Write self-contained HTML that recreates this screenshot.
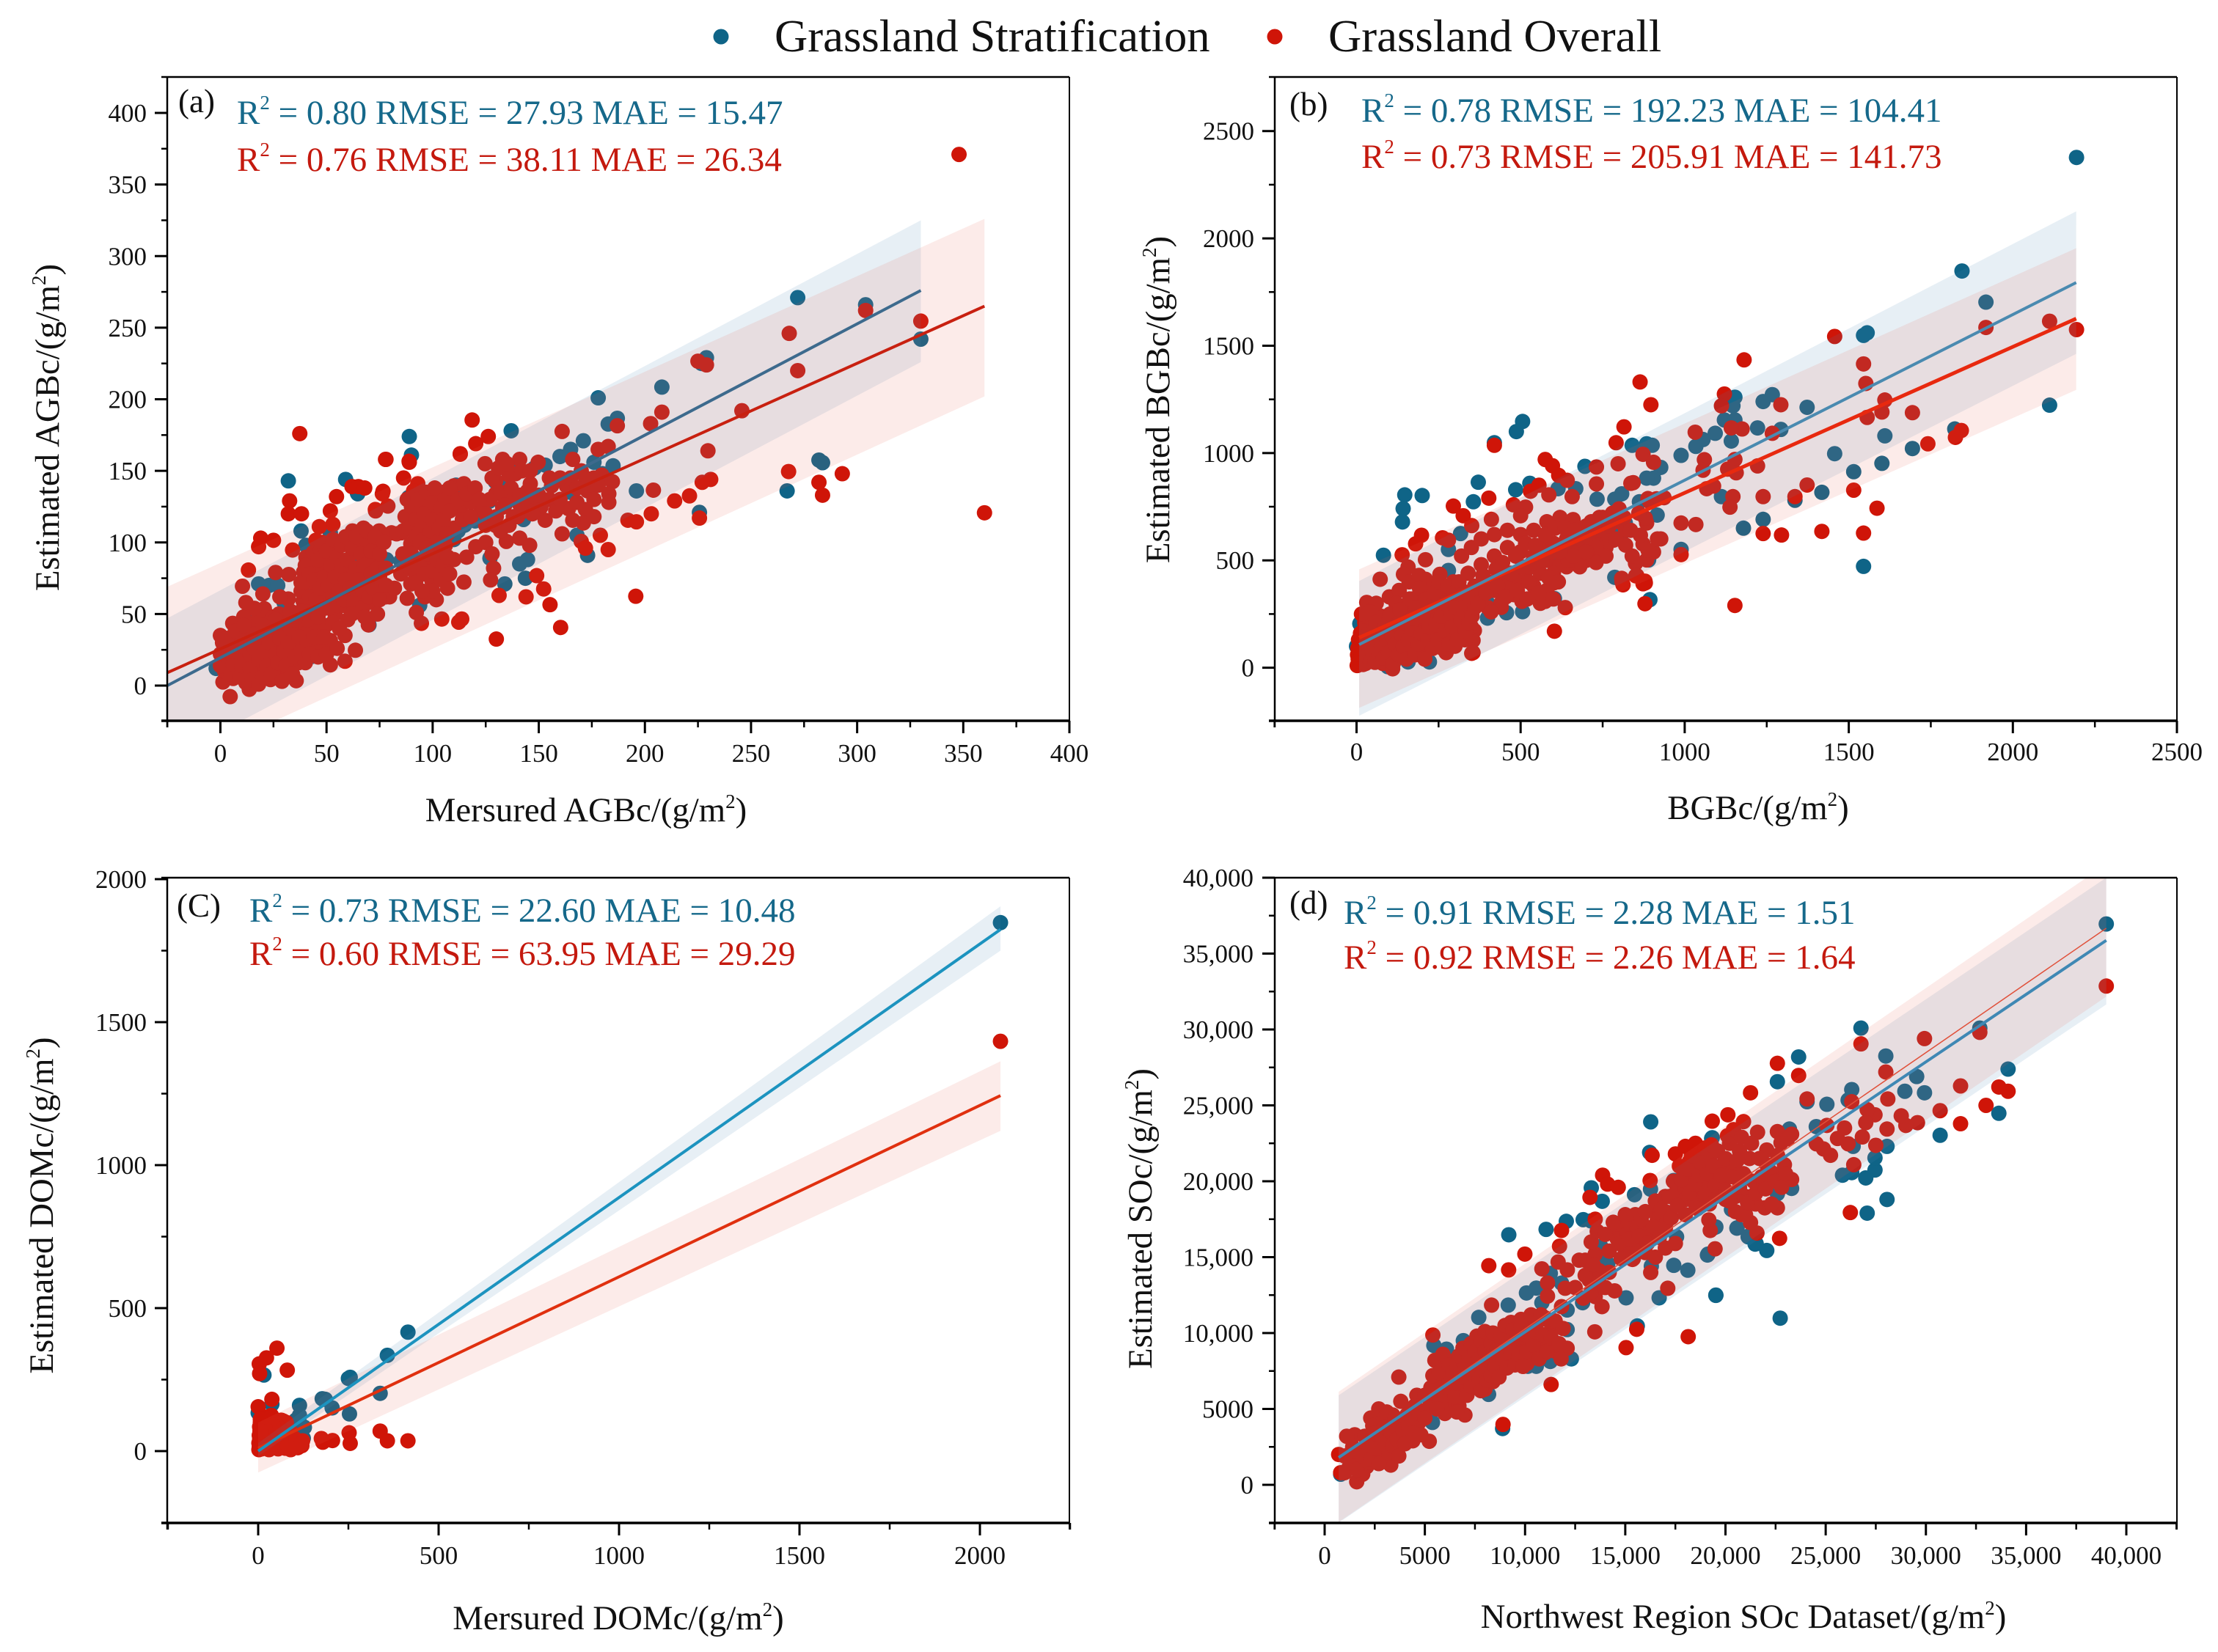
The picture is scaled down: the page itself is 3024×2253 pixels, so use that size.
<!DOCTYPE html>
<html lang="en">
<head>
<meta charset="utf-8">
<title>Estimated vs measured carbon density scatter plots</title>
<style>
html,body{margin:0;padding:0;background:#fff;}
svg{display:block;font-family:"Liberation Serif",serif;}
text{fill:#111;}
.tick{font-size:35px;}
.axl{font-size:46.8px;}
.stat{font-size:47px;}
.tag{font-size:45px;}
.leg{font-size:62.7px;}
.b{fill:#15688a;}
.r{fill:#c4190e;}
</style>
</head>
<body>
<svg id="chart" xmlns="http://www.w3.org/2000/svg" width="3024" height="2253" viewBox="0 0 3024 2253">
<rect x="0" y="0" width="3024" height="2253" fill="#fff"/>
<g>
<circle cx="983" cy="50" r="10.5" fill="#0f6487"/>
<text class="leg" x="1056" y="70">Grassland Stratification</text>
<circle cx="1738" cy="50" r="10.5" fill="#cf1508"/>
<text class="leg" x="1811" y="70">Grassland Overall</text>
</g>
<g id="plots"></g>

<text class="tag" x="243" y="153">(a)</text>
<text class="stat b" x="323" y="169">R<tspan dy="-20" font-size="27">2</tspan><tspan dy="20"> = 0.80 RMSE = 27.93 MAE = 15.47</tspan></text>
<text class="stat r" x="323" y="233">R<tspan dy="-20" font-size="27">2</tspan><tspan dy="20"> = 0.76 RMSE = 38.11 MAE = 26.34</tspan></text>
<text class="axl" text-anchor="middle" x="799" y="1120">Mersured AGBc/(g/m<tspan dy="-18" font-size="27">2</tspan><tspan dy="18">)</tspan></text>
<text class="axl" text-anchor="middle" transform="translate(80 583) rotate(-90)">Estimated AGBc/(g/m<tspan dy="-18" font-size="27">2</tspan><tspan dy="18">)</tspan></text>

<text class="tag" x="1758" y="157">(b)</text>
<text class="stat b" x="1856" y="166">R<tspan dy="-20" font-size="27">2</tspan><tspan dy="20"> = 0.78 RMSE = 192.23 MAE = 104.41</tspan></text>
<text class="stat r" x="1856" y="229">R<tspan dy="-20" font-size="27">2</tspan><tspan dy="20"> = 0.73 RMSE = 205.91 MAE = 141.73</tspan></text>
<text class="axl" text-anchor="middle" x="2397" y="1117">BGBc/(g/m<tspan dy="-18" font-size="27">2</tspan><tspan dy="18">)</tspan></text>
<text class="axl" text-anchor="middle" transform="translate(1594 545) rotate(-90)">Estimated BGBc/(g/m<tspan dy="-18" font-size="27">2</tspan><tspan dy="18">)</tspan></text>

<text class="tag" x="241" y="1250">(C)</text>
<text class="stat b" x="340" y="1257">R<tspan dy="-20" font-size="27">2</tspan><tspan dy="20"> = 0.73 RMSE = 22.60 MAE = 10.48</tspan></text>
<text class="stat r" x="340" y="1316">R<tspan dy="-20" font-size="27">2</tspan><tspan dy="20"> = 0.60 RMSE = 63.95 MAE = 29.29</tspan></text>
<text class="axl" text-anchor="middle" x="843" y="2222">Mersured DOMc/(g/m<tspan dy="-18" font-size="27">2</tspan><tspan dy="18">)</tspan></text>
<text class="axl" text-anchor="middle" transform="translate(72 1644) rotate(-90)">Estimated DOMc/(g/m<tspan dy="-18" font-size="27">2</tspan><tspan dy="18">)</tspan></text>

<text class="tag" x="1758" y="1246">(d)</text>
<text class="stat b" x="1832" y="1260">R<tspan dy="-20" font-size="27">2</tspan><tspan dy="20"> = 0.91 RMSE = 2.28 MAE = 1.51</tspan></text>
<text class="stat r" x="1832" y="1321">R<tspan dy="-20" font-size="27">2</tspan><tspan dy="20"> = 0.92 RMSE = 2.26 MAE = 1.64</tspan></text>
<text class="axl" text-anchor="middle" x="2377" y="2220">Northwest Region SOc Dataset/(g/m<tspan dy="-18" font-size="27">2</tspan><tspan dy="18">)</tspan></text>
<text class="axl" text-anchor="middle" transform="translate(1570 1662) rotate(-90)">Estimated SOc/(g/m<tspan dy="-18" font-size="27">2</tspan><tspan dy="18">)</tspan></text>
</svg>
<script>
/* ---------- panel (a) values ---------- */
const aXTicks=[0,50,100,150,200,250,300,350,400];
const aYTicks=[0,50,100,150,200,250,300,350,400];
const aXMinor=[-25,25,75,125,175,225,275,325,375];
const aYMinor=[25,75,125,175,225,275,325,375];
const aYLabels=['0','50','100','150','200','250','300','350','400'];
const aBlueLine=[[-25,0],[330,276]];
const aRedLine=[[-25,9],[360,265]];
const aBlueUpper=[[-25,47],[330,325]];
const aBlueLower=[[-25,-52],[330,226]];
const aRedUpper=[[-25,69],[360,326]];
const aRedLower=[[-25,-59],[360,202]];
const aBlue=[[272,271],[304,266],[330,242],[229,229],[226.7,225],[208,208.5],[178,201],[187,186.7],[182.7,182.7],[137,178],[89,174],[90,161],[32,143],[59,144],[64.7,134],[38,108],[267,136],[282,157.5],[283.7,155.7],[196,136],[225.7,121],[153,154],[160,160],[165,165],[171,171],[176,156],[185,153.5],[173,91],[143.7,75],[141,85],[144.7,88],[127,89],[134,71],[70,42.4],[18,71],[23,70],[27,70],[143,117],[110,102],[115,112],[120,115],[104,108],[108,106],[112,108],[135,142],[140,154],[148,152],[111,140],[118.6,136.5],[129.5,142.5],[126.7,128.8],[142.8,116],[88.7,131.4],[85,87],[78.3,87.9],[62.2,89.6],[51.8,106.7],[40.3,98],[43.8,65.7],[30,58],[13.8,46],[93.9,56],[48.4,31.5],[43.2,20.4],[-2,12],[165,135],[168,105],[180,148],[64.5,134.8]];
const aRed=[[348,371],[360,120.7],[330,254.6],[304,262],[268,246],[272,220],[225,226.6],[229,224],[245.7,192],[208,191],[202.7,183],[187,181.5],[229.7,164],[231,144],[227,142],[267.7,149.5],[282,142],[283.7,133],[293,148],[225.7,117],[204,136.5],[203,120],[214,129],[221,132.5],[192,115.5],[196,114.4],[195.7,62.4],[182.7,95],[179,105],[161,177.5],
[37.4,176],[118.6,185.5],[126.2,174],[120.3,169],[113,162],[77.8,158],[88.9,156.7],
[32.6,129],[32,120],[38.2,120],[19,103],[18,97],[25,101.5],[34,94.7],[13.2,80.7],[10.4,69.4],[26,79],[32.2,77.6],[51.8,122],[54.7,132],[62,139],[65,139],[68,138],[76.6,135.7],[78.9,125.4],[73.1,122],[53,112.6],[46.6,111],[45,101.5],[40.3,89.6],[43.8,93],[47.2,94.7],[39.2,79.3],[47.2,81],[51.8,79.3],[61,82.8],[62.2,108],[67.4,110],[74.8,108],[80.6,106.7],[85.2,106.7],[54.7,96.4],[61,98],[68,99.8],[73.7,96.4],[69,89.6],[73.7,86.2],[66.8,79.3],[62.2,76],[57,70],[44,84],[50,88],[56,78],[70,72],[75,76],[65,62],[72,58],[78,62],[58,56],[63,66],[50,65],[45,70],[40,72],
[113,161.6],[124.7,155],[133,158],[141,158],[149.7,156],[110,139.5],[114.7,141],[129.7,143],[136,147],[146,141],[156,139.5],[166,158],[163,139.5],[173,136],[179.7,147],[184.7,142.4],[183,134],[183,128],[178,165],[182.7,167],[176,145],[161,106],[164,123.6],[172,123],[171,113.6],[166,115.5],[170,100.7],[172,96],[153,115.5],[151,124.7],[141,126.6],[144.7,135.8],[129.7,134],[133,124.7],[123,122.9],[113,122.9],[103,119],[110,110],[129.7,111.8],[134.7,100.7],[141,103],[145.7,98],[120.3,97],[116,89.7],[128.7,82],[127.3,73.8],[131.3,63],[149,76.8],[152.3,67.5],[155.3,56.5],[160.3,40.6],[144,62],[130,32.5],[112.3,44.3],[113.7,46.5],[104.3,46.5],[114.7,72.3],[101.7,60],[106.3,76.8],[94.7,43.5],[92.3,51],[96.3,62],[88,61],[89.7,71],[99.7,73],[110,88],[93,88],[103,91.5],[98,102.6],[89.7,99],[96.3,110],[89.7,119],[94.7,124.7],[99.7,132],[93,141],[86.3,145],[89,156],[78,158],[76.3,134],[73,123],[83,106],[79.7,62],[71.3,62],[63,54.6],[69.7,42.4],[100,125],[105,135],[118,128],[137,130],[140,118],[125,112],[106,98],[100,85],[107,68],[92,78],[85,78],[82,68],[155,130],[160,145],[170,150],
[4.6,-7.7],[13.6,-2.6],[23.6,4.2],[35.7,3.4],[27.6,11],[1.2,2.5],[0,35],[5.8,43.5],[16,41.8],[20.7,53.7],[27.6,50],[32,60.5],[39,59],[42.6,55.4],[43.8,40],[49.5,41.8],[51.8,31.5],[51.8,14.5],[58.7,35],[63.6,24.7],[58.7,17],[36.9,16],[43.8,26.4],[48.4,24.7],[2,10],[3,18],[4,26],[1,30],[6,5],[8,12],[9,20],[7,32],[10,38],[12,2],[13,9],[14,16],[12,25],[15,30],[13,36],[17,6],[18,13],[19,21],[17,28],[20,35],[22,42],[21,10],[23,17],[24,26],[25,33],[26,40],[28,20],[29,28],[30,36],[31,44],[33,16],[34,24],[35,32],[36,40],[37,48],[39,28],[40,36],[41,46],[45,50],[47,34],[33,52],[25,48],[18,47],[11,48],[16,54],[29,8],[32,10],[54,50],[60,46],[52,58],[48,62],[38,66],[28,62],[12,58],[20,64]];
const aRedDense=[[0,14],[0,22],[3,33],[5,8],[6,15],[6,24],[7,38],[9,6],[10,14],[10,28],[11,33],[11,42],[14,12],[14,22],[15,4],[16,26],[16,36],[18,1],[18,18],[19,30],[20,6],[20,42],[21,24],[22,14],[23,30],[24,8],[24,38],[26,22],[26,46],[27,16],[28,33],[29,3],[30,24],[31,14],[32,30],[33,40],[34,8],[35,20],[35,46],[37,34],[38,24],[38,52],[40,16],[41,30],[42,22],[44,34],[46,20],[46,48],[49,34],[50,22],[53,44],[55,26],[56,40],
[38,72],[40,84],[42,62],[42,78],[44,74],[45,60],[46,88],[47,68],[48,100],[49,76],[49,54],[50,94],[51,70],[52,84],[53,62],[53,102],[54,76],[55,90],[55,56],[56,66],[57,84],[57,98],[58,60],[59,74],[59,104],[60,88],[61,68],[62,96],[63,58],[64,82],[64,104],[65,74],[66,92],[67,54],[67,66],[68,84],[69,108],[70,62],[71,78],[71,94],[72,68],[73,104],[74,82],[75,60],[75,92],[76,70],[77,100],[78,82],[62,50],[68,48],[74,50],[78,70],
[86,108],[87,118],[88,130],[89,110],[90,125],[91,136],[92,104],[92,116],[93,130],[94,100],[95,112],[96,120],[97,135],[97,96],[99,108],[100,116],[100,128],[101,138],[102,100],[103,110],[104,124],[105,116],[106,130],[107,106],[108,122],[108,138],
[88,84],[90,92],[92,72],[94,86],[96,78],[98,92],[100,66],[100,80],[102,88],[104,74],[105,84],[107,90],[108,78],[86,92],[95,66],
[125,120],[127,130],[128,145],[130,118],[131,152],[132,135],[134,126],[135,155],[137,138],[138,118],[139,148],[141,133],[142,150],[143,122],[145,128],[146,150],[147,120],[148,132],[125,100],[128,92],[132,108],[136,112],[112,130],[116,134],[120,138],[114,116],[118,118],[122,130],[165,145],[168,128],[172,145],[176,130],[178,140],[176,118],[168,138],[158,122],[160,130],[155,145],[150,133]];

/* ---------- panel (b) values ---------- */
const bXTicks=[0,500,1000,1500,2000,2500];
const bYTicks=[0,500,1000,1500,2000,2500];
const bXMinor=[-250,250,750,1250,1750,2250];
const bYMinor=[250,750,1250,1750,2250];
const bYLabels=['0','500','1000','1500','2000','2500'];
const bBlueLine=[[8,108],[2193,1794]];
const bRedLine=[[8,140],[2193,1626]];
const bBlueUpper=[[8,404],[2193,2126]];
const bBlueLower=[[8,-224],[2193,1462]];
const bRedUpper=[[8,458],[2193,1954]];
const bRedLower=[[8,-187],[2193,1294]];
const bBlue=[[2194,2377],[1845,1848],[1918,1703],[2112,1223],[1556,1560],[1545,1548],[1545,472],[1610,1080],[1601,952],[1694,1021],[1457,997],[1515,913],[1418,817],[1373,1213],[1267,1272],[1239,1240],[1222,1117],[1293,1110],[1823,1112],[1153,1260],[1147,1220],[1121,1154],[1153,1154],[1142,1056],[1093,1092],[1034,1031],[1056,1063],[989,989],[1112,797],[1179,650],[1239,691],[1336,780],[989,551],[894,317],[787,421],[603,322],[506,1147],[487,1100],[420,1048],[371,864],[356,773],[485,829],[528,859],[147,805],[200,802],[142,741],[140,679],[82,524],[222,27],[157,27],[696,938],[840,1036],[884,1043],[901,1036],[927,933],[916,711],[890,502],[819,674],[808,625],[668,834],[614,834],[733,785],[787,785],[808,810],[862,773],[905,883],[884,883],[280,551],[317,625],[280,453],[399,231],[457,256],[506,261],[614,490],[0,100],[10,205],[20,30],[95,5],[60,80],[120,140],[300,120],[340,200],[400,300]];
const bRed=[[2194,1575],[2112,1614],[1843,1105],[1825,1073],[1741,1043],[1694,1188],[1601,1191],[1610,1247],[1556,1166],[1552,1324],[1545,1415],[1457,1543],[1181,1434],[1121,1275],[1112,1220],[1293,1225],[1267,1092],[1918,1585],[864,1331],[897,1225],[815,1122],[791,1048],[420,1036],[1032,1097],[1060,969],[1056,920],[1088,846],[1067,834],[1131,925],[1153,970],[1157,908],[1175,1112],[1142,1117],[1222,940],[1239,797],[1147,797],[1138,748],[1336,797],[1373,851],[1239,625],[1295,618],[1418,635],[1515,827],[1545,627],[1586,743],[1153,290],[989,527],[989,674],[1034,667],[894,772],[937,792],[836,859],[797,950],[731,935],[731,856],[873,994],[905,957],[657,797],[603,170],[636,280],[601,404],[927,600],[884,502],[905,539],[873,391],[851,428],[808,416],[812,386],[879,298],[879,403],[873,576],[884,674],[754,600],
[575,970],[597,941],[616,896],[642,873],[530,822],[556,850],[586,805],[843,862],[403,790],[295,753],[325,708],[351,662],[411,691],[198,617],[180,577],[139,526],[210,503],[262,605],[280,594],[72,412],[157,469],[143,435],[210,412],[254,435],[478,759],[515,748],[500,708],[914,787],[888,788],[880,697],[865,617],[917,600],[888,548],[850,486],[854,429],[880,395],[809,400],[820,571],[783,594],[441,281],[359,173],[355,127],[351,67],[273,70],[601,395],[575,309],[504,309],[31,304],
[320,520],[350,560],[380,600],[420,620],[460,640],[500,620],[540,640],[580,680],[620,700],[660,690],[700,660],[740,700],[780,720],[560,560],[600,580],[640,600],[680,560],[720,600],[760,630],[800,680],[820,640],[640,530],[680,520],[720,540],[760,560],[700,500],[340,440],[380,480],[420,520],[460,560],[500,540],[540,520],[580,500],[620,480],[560,440],[600,440],[520,460],[480,420],[440,440],[400,400],[360,380],[320,360],[300,300],[340,310],[380,340],[420,360],[460,380],[500,400],[540,380],[580,360],[480,340],[520,320],[560,300],[600,320],[440,300],[400,280],[680,470],[640,470],
[2,10],[5,40],[8,70],[10,100],[6,130],[12,160],[20,15],[25,45],[30,80],[35,120],[40,170],[45,210],[50,30],[55,65],[60,105],[65,145],[70,190],[75,240],[80,20],[85,55],[90,95],[95,135],[100,180],[105,230],[110,-5],[115,40],[120,85],[125,125],[130,175],[135,225],[140,275],[145,60],[150,110],[155,160],[160,210],[165,260],[170,320],[175,90],[180,140],[185,190],[190,240],[195,290],[200,350],[205,70],[210,120],[215,170],[220,220],[225,270],[230,320],[235,390],[240,110],[245,160],[250,210],[255,260],[260,310],[265,360],[270,130],[275,180],[280,230],[285,280],[290,330],[295,400],[300,100],[305,150],[310,200],[315,250],[320,290],[325,170],[330,130],[335,210],[340,250],[345,150],[350,190],[355,70],[100,330],[130,360],[160,400],[190,430],[120,300],[60,300],[40,260],[25,210],[15,250]];
const bRedDense=[[3,60],[4,90],[12,30],[14,60],[16,130],[18,90],[20,170],[28,20],[28,110],[30,150],[33,55],[38,90],[42,30],[45,130],[48,75],[52,170],[56,25],[58,210],[62,130],[68,60],[72,160],[78,100],[82,45],[88,200],[92,130],[98,70],[102,250],[108,150],[112,20],[118,110],[122,200],[128,60],[132,270],[138,150],[142,100],[148,210],[152,40],[158,130],[162,320],[168,180],[172,230],[178,60],[182,280],[188,110],[192,370],[198,160],[202,240],[208,40],[212,320],[218,130],[222,190],[228,290],[232,90],[238,350],[242,200],[248,130],[252,400],[258,240],[262,90],[268,300],[272,170],[278,380],[282,110],[288,250],[292,190],[298,350],[302,280],[308,130],[312,400],[318,220],[322,340],[328,260],[332,170],[338,290],[342,210],[348,330],[352,240],[360,280],
[370,300],[385,430],[395,350],[410,260],[425,460],[430,380],[445,490],[455,330],[470,440],[485,520],[490,360],[505,470],[515,580],[525,400],[535,490],[545,570],[555,350],[565,500],[575,620],[585,420],[595,540],[605,650],[615,400],[625,560],[635,650],[645,500],[655,580],[665,640],[675,540],[690,590],[705,610],[715,680],[730,560],[740,640],[750,700],[770,660],[790,600],[800,740],[815,700],[835,640],[840,520],[860,720],[760,520],[730,490],[700,540],[660,520],[620,540]];

/* ---------- panel (c) values ---------- */
const cXTicks=[0,500,1000,1500,2000];
const cYTicks=[0,500,1000,1500,2000];
const cXMinor=[-250,250,750,1250,1750,2250];
const cYMinor=[250,750,1250,1750];
const cYLabels=['0','500','1000','1500','2000'];
const cBlueLine=[[0,0],[2057,1824]];
const cRedLine=[[0,10],[2057,1243]];
const cBlueUpper=[[0,28],[2057,1905]];
const cBlueLower=[[0,-18],[2057,1750]];
const cRedUpper=[[0,100],[2057,1363]];
const cRedLower=[[0,-75],[2057,1120]];
const cBlue=[[2057,1848],[415,416],[358,335],[255,258],[250,254],[177.5,183],[186,181],[205,151],[253,130],[338,202],[114.5,160],[114.5,125],[114.5,100],[128,83],[104,108],[38,164],[16,266],[0,134],[111,66],[120,60],[125,45],[90,90]];
const cRed=[[2057,1433],[52,360],[23,326],[3,305],[4,271],[80.6,283],[38,181],[0,155],[36.6,125],[64,108],[78,100],[175,44],[179,31],[206,37],[252,64],[255,27],[338,70],[358,36],[415,36],[121,19],[123,36],[2,5],[3,15],[2,28],[4,40],[3,55],[5,70],[4,85],[6,100],[10,8],[12,20],[11,35],[13,50],[12,65],[14,80],[15,95],[20,10],[22,25],[21,40],[23,55],[24,70],[25,88],[26,105],[30,5],[32,18],[31,32],[33,48],[34,62],[35,78],[36,95],[40,12],[42,28],[44,44],[46,60],[48,75],[50,90],[52,105],[55,8],[58,22],[60,38],[62,52],[65,68],[68,85],[70,105],[75,10],[78,25],[80,40],[85,55],[88,72],[95,15],[98,30],[100,45],[105,22],[110,12],[112,34],[90,5],[16,120],[28,115],[6,112]];
const cRedDense=[[8,15],[8,45],[17,12],[17,58],[27,42],[27,72],[38,25],[38,55],[45,100],[55,50],[60,75],[72,40],[72,60],[82,20],[92,40],[105,40],[118,25],[55,85],[42,90],[18,85],[8,70]];

/* ---------- panel (d) values ---------- */
const dXTicks=[0,5000,10000,15000,20000,25000,30000,35000,40000];
const dYTicks=[0,5000,10000,15000,20000,25000,30000,35000,40000];
const dXMinor=[-2500,2500,7500,12500,17500,22500,27500,32500,37500,42500];
const dYMinor=[2500,7500,12500,17500,22500,27500,32500,37500];
const dLabels=['0','5000','10,000','15,000','20,000','25,000','30,000','35,000','40,000'];
const dBlueLine=[[700,1800],[39000,35870]];
const dRedLine=[[700,1800],[39000,36670]];
const dBlueUpper=[[700,5900],[39000,40000]];
const dBlueLower=[[700,-2500],[39000,31650]];
const dRedUpper=[[700,6130],[39000,40900]];
const dRedLower=[[700,-2460],[39000,32170]];
const dBlue=[[39000,36950],[32690,30090],[34100,27390],[33640,24480],[30710,23030],[29930,25830],[29540,26900],[28950,25930],[28000,28250],[26760,30090],[23650,28190],[22590,26560],[22730,10980],[28060,22300],[28060,18800],[27070,17900],[27460,20740],[27460,21540],[27000,20220],[26300,20570],[25840,20400],[26300,26040],[26120,25350],[25060,25070],[24530,23600],[24070,25240],[23190,23440],[23300,19530],[22590,19180],[22060,15440],[21530,15890],[21180,16410],[20580,16930],[20300,18140],[19520,12500],[19130,15200],[19410,16930],[19310,22820],[26370,22300],
[16270,23913],[16216,21900],[9188,16475],[11050,16830],[12058,17360],[12900,17470],[13290,17390],[13304,19566],[13850,18680],[15460,19115],[16260,19480],[17420,20050],[19340,22870],[19520,12480],[17420,14460],[18120,14140],[15040,12320],[16690,12320],[19100,15140],[19520,16990],[20570,16910],[21130,16340],[21480,15860],[15600,10470],[8880,3710],[7690,11030],[9160,11840],[10070,12640],[10560,12960],[10840,12000],[12100,11520],[12100,10230],[12310,8300],[11260,8130],[5450,9180],[6080,8940],[6920,9500],[5380,4110],[8180,5960],[10140,7810],[10560,7810],[13920,15060],[13570,15220],[14130,14575],[13780,15700],[12870,12000],[11260,13930],[11820,13290],[15600,15860],[17560,16340],[16300,14410],[800,700],[1500,1700],[2800,2200],[4500,4500]];
const dRed=[[39000,32860],[34100,25930],[33640,26210],[33000,25000],[32690,29810],[31730,26280],[31730,23790],[30710,24650],[29930,29400],[29580,23860],[29000,23680],[28770,24310],[28100,25420],[28000,27200],[28060,23440],[27500,22370],[27460,24380],[27070,24720],[27000,23860],[26760,29050],[26830,22920],[26300,25240],[26400,21090],[26230,17940],[26120,22470],[25940,23510],[25590,22820],[25240,21710],[25060,23680],[24890,22130],[24530,22470],[24070,25420],[23650,26970],[22590,27770],[22700,16240],[22590,18250],[21250,25830],[20120,24380],[20900,23930],[19340,23960],[21600,23230],[22590,23270],[23300,23100],[22770,22540],[22060,22060],[23300,20120],[22940,21090],[22060,21090],[21960,18250],[21570,16590],[21250,17280],[19480,15550],[19240,16760],[19170,17450],[13240,18940],[13870,20400],[14120,19810],[14650,19600],[9180,14160],[8190,14440],[9990,15200],[8330,11840],[11820,16760],[11720,15720],[11650,14680],[10840,14230],[11120,13300],[11120,12430],[12110,14160],[12000,12950],[11820,11740],[11300,6610],[13480,10080],[15570,10250],[15040,9040],[18140,9760],[17120,12950],[8900,3980],[5220,2870],[3700,7100],[5400,9870],[13840,11740],[14470,12780],[16340,21710],[16240,20050],[16270,13990],[15880,15890],[15360,14850],[16240,16760],
[17500,21800],[18000,22300],[18500,22500],[19000,22200],[17700,21000],[18200,21300],[18700,21600],[19200,21400],[19700,21000],[20200,22500],[20700,22000],[21200,21500],[17400,20000],[17900,20300],[18400,20600],[18900,20800],[19400,20300],[19900,20000],[20400,20800],[20900,20500],[21400,20000],[21900,19700],[22400,20500],[17000,19000],[17500,19200],[18000,19500],[18500,19200],[19000,19700],[19500,19200],[20000,18800],[20500,19000],[21000,19000],[21500,18500],[18000,18800],[18500,18500],[19000,18700],[20500,18000],[21000,17800],
[14500,17000],[15000,17300],[15500,17800],[16000,17000],[16500,18200],[17000,18000],[14600,16200],[15100,16500],[15600,16900],[16100,16500],[16600,17500],[17100,17400],[15000,15500],[15500,15700],[16000,15300],[16500,15000],[17000,15600],[17500,15900],[14800,14900],[13000,14800],[13500,15200],[13200,13500],[13700,14100],[13300,16000],[13600,16700],[12900,12300],[13500,12400],
[7000,8000],[7300,8600],[7600,9200],[7900,9700],[8200,9900],[7500,7700],[7800,8200],[8100,8800],[8400,9400],[8700,9700],[9000,9200],[9300,10700],[9800,10900],[10200,10500],[10600,10700],[11000,11000],[11400,10300],[9000,8100],[9400,8500],[9800,9000],[10200,9400],[10600,9700],[11000,9400],[9200,7900],[9700,8200],[10100,8000],[10500,8600],[11000,8700],[11500,8800],[12100,9000],[11800,8300],[7200,6800],[7600,6600],[8000,6300],[8400,6800],[8200,7500],[8500,8400],[6700,7500],[6900,6500],[5700,8100],[5900,7600],[5800,6700],[6200,7000],[6500,8200],[6300,5500],[6700,5200],[7000,4600],[5800,5300],[5500,5800],[5200,6000],[6000,4700],[6600,4800],
[800,800],[1000,1900],[1200,1100],[1400,2500],[1500,3300],[1600,200],[1700,900],[1800,1600],[2000,3200],[2100,1200],[2200,2300],[2300,4400],[2500,2800],[2600,1800],[2800,3400],[2900,4200],[3000,2400],[3100,1500],[3200,3000],[3300,1300],[3400,4600],[3500,2200],[3600,3600],[3700,2700],[3800,5500],[3900,4300],[4100,3300],[4300,4800],[4400,2900],[4600,5900],[4700,4100],[5000,5900],[5200,5100],[1100,3200],[700,2000],[2400,3900],[2700,5000],[3100,4800],[1900,700],[2200,1500]];
const dRedDense=[[1000,800],[1300,1600],[1500,2200],[1600,1000],[1900,1900],[2100,2800],[2300,1700],[2500,3400],[2600,2400],[2700,1400],[2900,3000],[3000,3800],[3200,2100],[3300,3500],[3400,2600],[3500,4300],[3600,3000],[3700,1900],[3900,3600],[4000,2700],[4100,4600],[4200,3800],[4400,3400],[4500,5200],[4700,4700],[4800,3300],[5000,4400],[5300,6400],
[5400,7200],[5500,8200],[5600,5000],[5700,7400],[5900,8600],[6000,5900],[6100,6400],[6200,7900],[6300,6200],[6400,7400],[6500,5800],[6600,6700],[6700,8500],[6800,7100],[6900,9000],[7000,7600],[7100,5900],[7200,8500],[7300,6500],[7300,9300],[7400,7300],[7500,8800],[7600,9800],[7700,7000],[7700,8300],[7800,6200],[7800,9500],[7900,7600],[8000,8800],[8000,10100],[8100,6900],[8200,8200],[8300,9300],[8300,7200],[8400,10000],[8500,7800],[8600,8900],[8700,7100],[8800,9800],[8900,8300],[9000,10500],[9100,7700],[9200,9400],[9300,8700],[9400,10200],[9500,7900],[9600,9700],[9700,8600],[9800,10500],[9900,7800],[10000,9900],[10100,8800],[10300,11200],[10400,9200],[10500,10100],[10700,8300],[10800,11200],[10900,9900],[11100,8800],[11200,10800],[11300,9700],[11500,10800],[11700,9300],[11900,10300],
[12500,13000],[12700,14800],[13000,13800],[13300,12700],[13400,14500],[13500,17500],[13700,13300],[14000,13000],[14200,14000],
[14000,16500],[14200,15400],[14400,17300],[14700,15900],[15000,17800],[15200,16200],[15400,14900],[15700,16400],[15800,17500],[16000,18000],[16100,15900],[16400,17000],[16500,18700],[16700,16300],[16800,18200],[17000,16900],[17200,19000],[17300,17600],[17600,18400],[17800,20100],[18000,17800],[18100,20800],[18200,19200],[18300,21700],[18500,19800],[18600,18200],[18700,20400],[18800,21200],[19000,19200],[19100,20500],[19200,18500],[19300,22400],[19400,21000],[19500,19700],[19600,22000],[19800,20400],[20000,21500],[20000,19400],[20100,23000],[20200,18700],[20300,20300],[20400,23400],[20600,21400],[20700,19600],[20800,17800],[20800,22900],[21000,20300],[21100,18600],[21300,22500],[21500,19200],[21700,21500],[21800,20300],[22000,19500],[22200,20700],[22300,18500],[22500,20000],[22600,21700],[22800,19600],[23000,20500],[23100,22800]];

/* ---------- axis machinery ---------- */
const NS='http://www.w3.org/2000/svg';
const root=document.getElementById('plots');
function mk(tag,attrs,parent){
  const el=document.createElementNS(NS,tag);
  for(const k in attrs)el.setAttribute(k,attrs[k]);
  parent.appendChild(el);
  return el;
}
function linearAxis(d0,p0,d1,p1){return v=>p0+(v-d0)*(p1-p0)/(d1-d0);}

function drawPanel(p){
  const x=linearAxis(p.xRef[0],p.xRef[1],p.xRef[2],p.xRef[3]);
  const y=linearAxis(p.yRef[0],p.yRef[1],p.yRef[2],p.yRef[3]);
  const g=mk('g',{},root);
  
  
  const clipId='clip-'+p.id;
  const defs=mk('defs',{},g);
  const cp=mk('clipPath',{id:clipId},defs);
  mk('rect',{x:p.L,y:p.T,width:p.R-p.L,height:p.B-p.T},cp);
  const body=mk('g',{'clip-path':'url(#'+clipId+')'},g);
  
  

  p.blue.forEach(pt=>{
    const c=mk('circle',{cx:x(pt[0]),cy:y(pt[1]),r:10.5,fill:'#0f6487'},body);
    
    
  });
  p.red.forEach(pt=>{
    const c=mk('circle',{cx:x(pt[0]),cy:y(pt[1]),r:10.5,fill:'#cf1508'},body);
    
    
  });
  const band=(up,lo,fill,name)=>{
    const pts=[up[0],up[1],lo[1],lo[0]].map(q=>x(q[0])+','+y(q[1])).join(' ');
    const b=mk('polygon',{points:pts,fill:fill},body);
    
    
  };
  band(p.blueUp,p.blueLo,'rgba(70,130,180,.13)','confidence-band-stratification');
  band(p.redUp,p.redLo,'rgba(232,90,70,.12)','confidence-band-overall');
  const line=(l,col,w,name)=>{
    const e=mk('line',{x1:x(l[0][0]),y1:y(l[0][1]),x2:x(l[1][0]),y2:y(l[1][1]),stroke:col,'stroke-width':w},body);
    
    
  };
  line(p.redLine,p.redCol,p.redW,'fit-line-overall');
  line(p.blueLine,p.blueCol,4,'fit-line-stratification');

  const ax=mk('g',{stroke:'#000',fill:'none'},g);
  
  
  mk('line',{x1:p.L-8,x2:p.R,y1:p.T,y2:p.T,'stroke-width':2.5},ax);
  mk('line',{x1:p.L-8,x2:p.R,y1:p.B,y2:p.B,'stroke-width':3.5},ax);
  mk('line',{x1:p.L,x2:p.L,y1:p.T,y2:p.B+9,'stroke-width':2.5},ax);
  mk('line',{x1:p.R,x2:p.R,y1:p.T,y2:p.B+9,'stroke-width':2},ax);
  p.xMinor.forEach(v=>{
    if(x(v)>=p.L-1&&x(v)<=p.R+1)mk('line',{x1:x(v),x2:x(v),y1:p.B,y2:p.B+9,'stroke-width':2.5},ax);
  });
  p.yMinor.forEach(v=>{
    if(y(v)>=p.T-1&&y(v)<=p.B+1)mk('line',{x1:p.L-8,x2:p.L,y1:y(v),y2:y(v),'stroke-width':2.5},ax);
  });
  p.xTicks.forEach((v,i)=>{
    mk('line',{x1:x(v),x2:x(v),y1:p.B,y2:p.B+17,'stroke-width':3},ax);
    const t=mk('text',{class:'tick','text-anchor':'middle',x:x(v),y:p.xLabelY},g);
    t.textContent=p.labels[i];
    
    
  });
  p.yTicks.forEach((v,i)=>{
    mk('line',{x1:p.L-17,x2:p.L,y1:y(v),y2:y(v),'stroke-width':3},ax);
    const t=mk('text',{class:'tick','text-anchor':'end',x:p.yLabelX,y:y(v)+12},g);
    t.textContent=p.labels[i];
    
    
  });
}

drawPanel({id:'a',L:228,R:1458,T:105,B:983,xRef:[0,300.5,400,1458],yRef:[0,935,400,154],xLabelY:1039,yLabelX:200,
  blue:aBlue,red:aRed.concat(aRedDense),blueUp:aBlueUpper,blueLo:aBlueLower,redUp:aRedUpper,redLo:aRedLower,blueLine:aBlueLine,redLine:aRedLine,blueCol:'#3d6a8d',redCol:'#c82010',redW:4,
  xTicks:aXTicks,yTicks:aYTicks,xMinor:aXMinor,yMinor:aYMinor,labels:aYLabels});
drawPanel({id:'b',L:1738,R:2968,T:105,B:983,xRef:[0,1849.5,2500,2968],yRef:[0,910.6,2500,178.7],xLabelY:1037,yLabelX:1710,
  blue:bBlue,red:bRed.concat(bRedDense),blueUp:bBlueUpper,blueLo:bBlueLower,redUp:bRedUpper,redLo:bRedLower,blueLine:bBlueLine,redLine:bRedLine,blueCol:'#4a8ab0',redCol:'#e8290f',redW:5,
  xTicks:bXTicks,yTicks:bYTicks,xMinor:bXMinor,yMinor:bYMinor,labels:bYLabels});
drawPanel({id:'c',L:228,R:1458,T:1197,B:2077,xRef:[0,352,2000,1336],yRef:[0,1979,2000,1199],xLabelY:2133,yLabelX:200,
  blue:cBlue,red:cRed.concat(cRedDense),blueUp:cBlueUpper,blueLo:cBlueLower,redUp:cRedUpper,redLo:cRedLower,blueLine:cBlueLine,redLine:cRedLine,blueCol:'#1c93bf',redCol:'#e0300f',redW:4,
  xTicks:cXTicks,yTicks:cYTicks,xMinor:cXMinor,yMinor:cYMinor,labels:cYLabels});
drawPanel({id:'d',L:1738,R:2968,T:1197,B:2077,xRef:[0,1806,40000,2899],yRef:[0,2025,40000,1197],xLabelY:2133,yLabelX:1709,
  blue:dBlue,red:dRed.concat(dRedDense),blueUp:dBlueUpper,blueLo:dBlueLower,redUp:dRedUpper,redLo:dRedLower,blueLine:dBlueLine,redLine:dRedLine,blueCol:'#3f88b4',redCol:'#e0503a',redW:1.5,
  xTicks:dXTicks,yTicks:dYTicks,xMinor:dXMinor,yMinor:dYMinor,labels:dLabels});
</script>
</body>
</html>
